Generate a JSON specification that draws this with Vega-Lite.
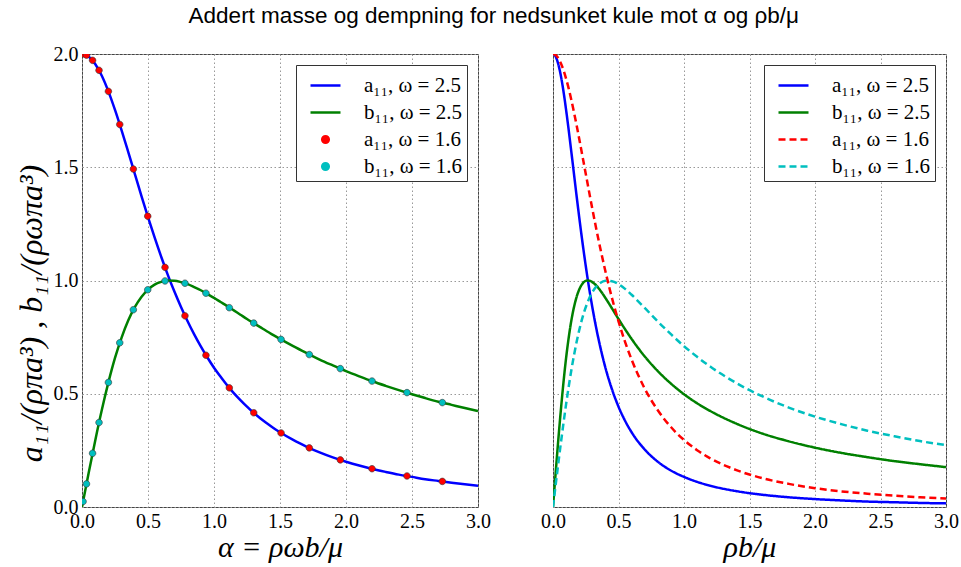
{
  "$schema": "https://vega.github.io/schema/vega-lite/v6.json",
  "background": "white",
  "padding": {"left": 14, "top": 5, "right": 0, "bottom": 5},
  "title": {"text": "Addert masse og dempning for nedsunket kule mot α og ρb/μ", "font": "Liberation Sans", "fontSize": 22.5, "fontWeight": "normal", "color": "#000", "anchor": "middle", "offset": 16, "dx": 7},
  "bounds": "flush",
  "spacing": 75,
  "datasets": {
    "left_curve": [
      {"alpha": 0, "a25": 2.0, "b25": 0.0},
      {"alpha": 0.05, "a25": 1.989, "b25": 0.149},
      {"alpha": 0.1, "a25": 1.956, "b25": 0.293},
      {"alpha": 0.15, "a25": 1.904, "b25": 0.428},
      {"alpha": 0.2, "a25": 1.835, "b25": 0.550},
      {"alpha": 0.25, "a25": 1.753, "b25": 0.658},
      {"alpha": 0.3, "a25": 1.663, "b25": 0.748},
      {"alpha": 0.35, "a25": 1.568, "b25": 0.823},
      {"alpha": 0.4, "a25": 1.471, "b25": 0.882},
      {"alpha": 0.45, "a25": 1.374, "b25": 0.927},
      {"alpha": 0.5, "a25": 1.280, "b25": 0.960},
      {"alpha": 0.55, "a25": 1.190, "b25": 0.982},
      {"alpha": 0.6, "a25": 1.105, "b25": 0.994},
      {"alpha": 0.65, "a25": 1.025, "b25": 1.000},
      {"alpha": 0.7, "a25": 0.951, "b25": 0.999},
      {"alpha": 0.75, "a25": 0.883, "b25": 0.993},
      {"alpha": 0.8, "a25": 0.820, "b25": 0.984},
      {"alpha": 0.85, "a25": 0.762, "b25": 0.971},
      {"alpha": 0.9, "a25": 0.709, "b25": 0.957},
      {"alpha": 0.95, "a25": 0.660, "b25": 0.940},
      {"alpha": 1.0, "a25": 0.615, "b25": 0.923},
      {"alpha": 1.05, "a25": 0.575, "b25": 0.905},
      {"alpha": 1.1, "a25": 0.537, "b25": 0.887},
      {"alpha": 1.15, "a25": 0.503, "b25": 0.868},
      {"alpha": 1.2, "a25": 0.472, "b25": 0.849},
      {"alpha": 1.25, "a25": 0.443, "b25": 0.830},
      {"alpha": 1.3, "a25": 0.416, "b25": 0.812},
      {"alpha": 1.35, "a25": 0.392, "b25": 0.794},
      {"alpha": 1.4, "a25": 0.370, "b25": 0.776},
      {"alpha": 1.45, "a25": 0.349, "b25": 0.759},
      {"alpha": 1.5, "a25": 0.330, "b25": 0.742},
      {"alpha": 1.6, "a25": 0.296, "b25": 0.710},
      {"alpha": 1.7, "a25": 0.267, "b25": 0.680},
      {"alpha": 1.8, "a25": 0.241, "b25": 0.651},
      {"alpha": 1.9, "a25": 0.219, "b25": 0.625},
      {"alpha": 2.0, "a25": 0.200, "b25": 0.600},
      {"alpha": 2.1, "a25": 0.183, "b25": 0.577},
      {"alpha": 2.2, "a25": 0.168, "b25": 0.555},
      {"alpha": 2.3, "a25": 0.155, "b25": 0.535},
      {"alpha": 2.4, "a25": 0.143, "b25": 0.516},
      {"alpha": 2.5, "a25": 0.133, "b25": 0.498},
      {"alpha": 2.6, "a25": 0.123, "b25": 0.481},
      {"alpha": 2.7, "a25": 0.115, "b25": 0.465},
      {"alpha": 2.8, "a25": 0.107, "b25": 0.451},
      {"alpha": 2.9, "a25": 0.100, "b25": 0.437},
      {"alpha": 3.0, "a25": 0.094, "b25": 0.424}
    ],
    "left_points": [
      {"alpha": 0.008, "a16": 2.000, "b16": 0.024},
      {"alpha": 0.034, "a16": 1.995, "b16": 0.102},
      {"alpha": 0.08, "a16": 1.972, "b16": 0.237},
      {"alpha": 0.129, "a16": 1.928, "b16": 0.373},
      {"alpha": 0.2, "a16": 1.835, "b16": 0.550},
      {"alpha": 0.286, "a16": 1.689, "b16": 0.725},
      {"alpha": 0.389, "a16": 1.492, "b16": 0.871},
      {"alpha": 0.498, "a16": 1.284, "b16": 0.959},
      {"alpha": 0.629, "a16": 1.058, "b16": 0.998},
      {"alpha": 0.78, "a16": 0.844, "b16": 0.988},
      {"alpha": 0.939, "a16": 0.670, "b16": 0.944},
      {"alpha": 1.116, "a16": 0.526, "b16": 0.880},
      {"alpha": 1.301, "a16": 0.416, "b16": 0.812},
      {"alpha": 1.508, "a16": 0.327, "b16": 0.740},
      {"alpha": 1.722, "a16": 0.261, "b16": 0.673},
      {"alpha": 1.957, "a16": 0.208, "b16": 0.611},
      {"alpha": 2.197, "a16": 0.169, "b16": 0.556},
      {"alpha": 2.462, "a16": 0.137, "b16": 0.505},
      {"alpha": 2.73, "a16": 0.113, "b16": 0.461}
    ],
    "right_curves": [
      {"x": 0, "a25": 2.0, "b25": 0.0, "a16": 2.0, "b16": 0.0},
      {"x": 0.01, "a25": 1.997, "b25": 0.075, "a16": 1.999, "b16": 0.048},
      {"x": 0.02, "a25": 1.989, "b25": 0.149, "a16": 1.995, "b16": 0.096},
      {"x": 0.03, "a25": 1.975, "b25": 0.222, "a16": 1.990, "b16": 0.143},
      {"x": 0.04, "a25": 1.956, "b25": 0.293, "a16": 1.982, "b16": 0.190},
      {"x": 0.05, "a25": 1.932, "b25": 0.362, "a16": 1.972, "b16": 0.237},
      {"x": 0.06, "a25": 1.904, "b25": 0.428, "a16": 1.959, "b16": 0.282},
      {"x": 0.08, "a25": 1.835, "b25": 0.550, "a16": 1.929, "b16": 0.370},
      {"x": 0.1, "a25": 1.753, "b25": 0.658, "a16": 1.891, "b16": 0.454},
      {"x": 0.12, "a25": 1.663, "b25": 0.748, "a16": 1.847, "b16": 0.532},
      {"x": 0.14, "a25": 1.568, "b25": 0.823, "a16": 1.797, "b16": 0.604},
      {"x": 0.16, "a25": 1.471, "b25": 0.882, "a16": 1.743, "b16": 0.669},
      {"x": 0.18, "a25": 1.374, "b25": 0.927, "a16": 1.686, "b16": 0.728},
      {"x": 0.2, "a25": 1.280, "b25": 0.960, "a16": 1.626, "b16": 0.780},
      {"x": 0.22, "a25": 1.190, "b25": 0.982, "a16": 1.564, "b16": 0.826},
      {"x": 0.24, "a25": 1.105, "b25": 0.995, "a16": 1.502, "b16": 0.865},
      {"x": 0.26, "a25": 1.025, "b25": 1.000, "a16": 1.440, "b16": 0.898},
      {"x": 0.28, "a25": 0.951, "b25": 0.999, "a16": 1.378, "b16": 0.926},
      {"x": 0.3, "a25": 0.883, "b25": 0.993, "a16": 1.317, "b16": 0.948},
      {"x": 0.33, "a25": 0.790, "b25": 0.978, "a16": 1.229, "b16": 0.973},
      {"x": 0.36, "a25": 0.709, "b25": 0.957, "a16": 1.145, "b16": 0.989},
      {"x": 0.4, "a25": 0.615, "b25": 0.923, "a16": 1.041, "b16": 0.999},
      {"x": 0.45, "a25": 0.520, "b25": 0.877, "a16": 0.923, "b16": 0.997},
      {"x": 0.5, "a25": 0.443, "b25": 0.830, "a16": 0.820, "b16": 0.984},
      {"x": 0.55, "a25": 0.381, "b25": 0.785, "a16": 0.729, "b16": 0.963},
      {"x": 0.6, "a25": 0.330, "b25": 0.742, "a16": 0.651, "b16": 0.937},
      {"x": 0.7, "a25": 0.254, "b25": 0.665, "a16": 0.523, "b16": 0.879},
      {"x": 0.8, "a25": 0.200, "b25": 0.600, "a16": 0.427, "b16": 0.819},
      {"x": 0.9, "a25": 0.161, "b25": 0.545, "a16": 0.353, "b16": 0.763},
      {"x": 1.0, "a25": 0.133, "b25": 0.498, "a16": 0.296, "b16": 0.710},
      {"x": 1.1, "a25": 0.111, "b25": 0.458, "a16": 0.251, "b16": 0.663},
      {"x": 1.2, "a25": 0.094, "b25": 0.424, "a16": 0.215, "b16": 0.620},
      {"x": 1.4, "a25": 0.070, "b25": 0.368, "a16": 0.163, "b16": 0.547},
      {"x": 1.6, "a25": 0.054, "b25": 0.324, "a16": 0.127, "b16": 0.488},
      {"x": 1.8, "a25": 0.043, "b25": 0.290, "a16": 0.102, "b16": 0.439},
      {"x": 2.0, "a25": 0.035, "b25": 0.262, "a16": 0.083, "b16": 0.399},
      {"x": 2.2, "a25": 0.029, "b25": 0.239, "a16": 0.069, "b16": 0.366},
      {"x": 2.4, "a25": 0.024, "b25": 0.220, "a16": 0.059, "b16": 0.337},
      {"x": 2.6, "a25": 0.021, "b25": 0.203, "a16": 0.050, "b16": 0.313},
      {"x": 2.8, "a25": 0.018, "b25": 0.189, "a16": 0.043, "b16": 0.291},
      {"x": 3.0, "a25": 0.016, "b25": 0.176, "a16": 0.038, "b16": 0.273}
    ]
  },
  "hconcat": [
    {
      "width": 396,
      "height": 453,
      "layer": [
        {
          "data": {"name": "left_curve"},
          "transform": [{"fold": ["a25", "b25"], "as": ["series", "val"]}],
          "mark": {"type": "line", "strokeWidth": 2.5, "clip": true, "interpolate": "monotone"},
          "encoding": {
            "x": {"field": "alpha", "type": "quantitative", "scale": {"domain": [0, 3], "nice": false}, "axis": {"values": [0, 0.5, 1, 1.5, 2, 2.5, 3], "format": ".1f", "title": "α = ρωb/μ", "titlePadding": 1}},
            "y": {"field": "val", "type": "quantitative", "scale": {"domain": [0, 2], "nice": false}, "axis": {"values": [0, 0.5, 1, 1.5, 2], "format": ".1f", "title": "a₁₁/(ρπa³) ,   b₁₁/(ρωπa³)", "titlePadding": 5, "titleY": 259, "titleFontSize": 32}},
            "color": {
              "field": "series", "type": "nominal",
              "scale": {"domain": ["a25", "b25", "a16", "b16"], "range": ["#0000ff", "#008000", "#ff0000", "#00bfbf"]},
              "legend": {"title": null, "labelExpr": "datum.value=='a25' ? 'a₁₁, ω = 2.5' : datum.value=='b25' ? 'b₁₁, ω = 2.5' : datum.value=='a16' ? 'a₁₁, ω = 1.6' : 'b₁₁, ω = 1.6'"}
            }
          }
        },
        {
          "data": {"name": "left_points"},
          "transform": [{"fold": ["a16", "b16"], "as": ["series", "val"]}],
          "mark": {"type": "point", "filled": true, "size": 900, "stroke": "#333333", "strokeWidth": 0.6, "opacity": 1, "clip": true},
          "encoding": {
            "x": {"field": "alpha", "type": "quantitative"},
            "y": {"field": "val", "type": "quantitative"},
            "color": {"field": "series", "type": "nominal", "legend": {"title": null, "labelExpr": "datum.value=='a25' ? 'a₁₁, ω = 2.5' : datum.value=='b25' ? 'b₁₁, ω = 2.5' : datum.value=='a16' ? 'a₁₁, ω = 1.6' : 'b₁₁, ω = 1.6'"}},
            "shape": {
              "field": "series", "type": "nominal",
              "scale": {"domain": ["a25", "b25", "a16", "b16"], "range": ["stroke", "stroke", "M-0.22,0a0.22,0.22 0 1,0 0.44,0a0.22,0.22 0 1,0 -0.44,0", "M-0.22,0a0.22,0.22 0 1,0 0.44,0a0.22,0.22 0 1,0 -0.44,0"]},
              "legend": {"title": null, "labelExpr": "datum.value=='a25' ? 'a₁₁, ω = 2.5' : datum.value=='b25' ? 'b₁₁, ω = 2.5' : datum.value=='a16' ? 'a₁₁, ω = 1.6' : 'b₁₁, ω = 1.6'"}
            }
          }
        }
      ]
    },
    {
      "width": 393,
      "height": 453,
      "data": {"name": "right_curves"},
      "transform": [{"fold": ["a25", "b25", "a16", "b16"], "as": ["series", "val"]}],
      "mark": {"type": "line", "strokeWidth": 2.5, "clip": true, "interpolate": "monotone"},
      "encoding": {
        "x": {"field": "x", "type": "quantitative", "scale": {"domain": [0, 3], "nice": false}, "axis": {"values": [0, 0.5, 1, 1.5, 2, 2.5, 3], "format": ".1f", "title": "ρb/μ", "titlePadding": 1}},
        "y": {"field": "val", "type": "quantitative", "scale": {"domain": [0, 2], "nice": false}, "axis": {"values": [0, 0.5, 1, 1.5, 2], "labels": false, "title": null}},
        "strokeDash": {
          "field": "series", "type": "nominal",
          "scale": {"domain": ["a25", "b25", "a16", "b16"], "range": [[1, 0], [1, 0], [7, 4], [7, 4]]},
          "legend": {"title": null, "labelExpr": "datum.value=='a25' ? 'a₁₁, ω = 2.5' : datum.value=='b25' ? 'b₁₁, ω = 2.5' : datum.value=='a16' ? 'a₁₁, ω = 1.6' : 'b₁₁, ω = 1.6'"}
        },
        "color": {
          "field": "series", "type": "nominal",
          "scale": {"domain": ["a25", "b25", "a16", "b16"], "range": ["#0000ff", "#008000", "#ff0000", "#00bfbf"]},
          "legend": {"title": null, "labelExpr": "datum.value=='a25' ? 'a₁₁, ω = 2.5' : datum.value=='b25' ? 'b₁₁, ω = 2.5' : datum.value=='a16' ? 'a₁₁, ω = 1.6' : 'b₁₁, ω = 1.6'"}
        }
      }
    }
  ],
  "resolve": {"scale": {"color": "independent", "strokeDash": "independent", "shape": "independent"}, "legend": {"color": "independent", "strokeDash": "independent", "shape": "independent"}},
  "config": {
    "view": {"stroke": "#444444", "strokeWidth": 1},
    "axis": {"domain": false, "ticks": false, "grid": true, "gridColor": "#999999", "gridDash": [1.5, 2.5], "gridWidth": 1, "labelFont": "Liberation Serif", "labelFontSize": 20, "labelColor": "#000000", "labelFlush": false, "labelOverlap": false, "labelPadding": 4, "titleFont": "Liberation Serif", "titleFontSize": 30, "titleFontStyle": "italic", "titleFontWeight": "normal", "titleColor": "#000000"},
    "legend": {"orient": "top-right", "offset": 11, "padding": 4, "symbolOffset": 9, "fillColor": "white", "strokeColor": "#333333", "strokeWidth": 1, "cornerRadius": 0, "labelFont": "Liberation Serif", "labelFontSize": 21, "labelColor": "#000000", "labelOffset": 22, "rowPadding": 0, "symbolSize": 900, "symbolType": "stroke", "symbolStrokeWidth": 2.5, "symbolOpacity": 1}
  }
}
